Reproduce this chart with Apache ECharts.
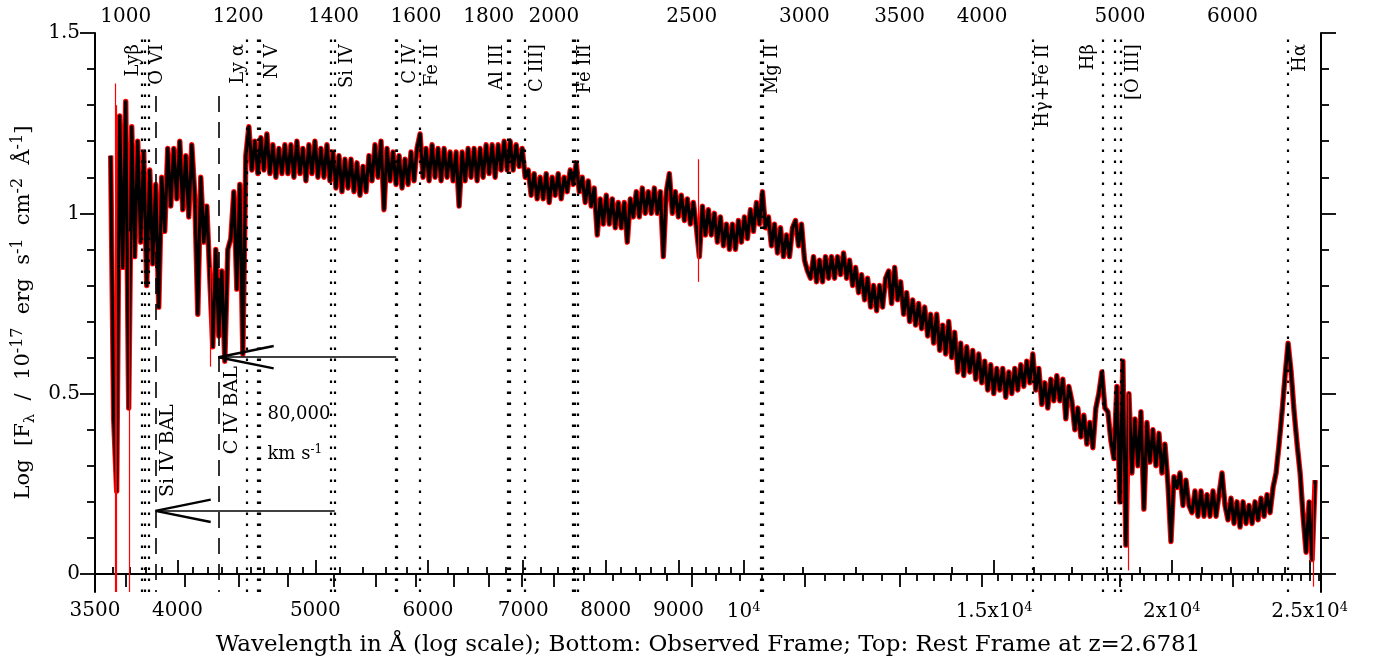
<!DOCTYPE html>
<html><head><meta charset="utf-8">
<script src="https://cdn.jsdelivr.net/npm/echarts@6/dist/echarts.min.js"></script>
<style>html,body{margin:0;padding:0;background:#fff}#c{width:1378px;height:661px}</style>
</head><body><div id="c"></div>
<script>
const REDSHIFT = 2.6781;
const X_MIN = 3500, X_MAX = 25465;
const Y_MIN = -0.05, Y_MAX = 1.5;
const FONT = 'DejaVu Serif';

// spectrum sampled evenly in log(wavelength) between these observed wavelengths
const specStart = 3590, specEnd = 25224;
const fluxBlack = [
1.16,0.43,0.23,1.27,0.85,1.31,0.46,1.24,0.88,1.20,0.92,1.17,0.80,1.12,0.86,1.08,0.74,1.10,0.95,1.18,
1.02,1.18,1.04,1.20,1.01,1.16,0.99,1.19,1.05,0.72,1.10,0.92,1.02,0.82,0.63,0.90,0.66,0.84,0.59,0.90,
0.93,1.06,0.79,1.08,0.61,1.16,1.24,1.12,1.20,1.11,1.21,1.12,1.22,1.11,1.19,1.10,1.18,1.11,1.19,1.11,
1.19,1.10,1.20,1.11,1.18,1.09,1.19,1.11,1.20,1.10,1.18,1.10,1.19,1.09,1.17,1.07,1.16,1.06,1.15,1.07,
1.15,1.06,1.14,1.05,1.13,1.06,1.16,1.09,1.19,1.10,1.20,1.01,1.18,1.09,1.17,1.08,1.16,1.07,1.15,1.08,
1.17,1.09,1.18,1.22,1.10,1.18,1.09,1.19,1.10,1.18,1.09,1.18,1.10,1.17,1.09,1.17,1.02,1.17,1.09,1.18,
1.10,1.18,1.09,1.18,1.10,1.19,1.11,1.19,1.10,1.19,1.12,1.20,1.12,1.20,1.12,1.19,1.13,1.18,1.10,1.12,
1.05,1.11,1.04,1.10,1.04,1.11,1.03,1.10,1.05,1.11,1.04,1.10,1.06,1.12,1.08,1.14,1.06,1.10,1.03,1.09,
1.02,1.07,0.94,1.04,0.97,1.05,0.97,1.04,0.96,1.03,0.96,1.03,0.92,1.04,0.99,1.06,0.99,1.07,1.00,1.06,
1.00,1.07,1.00,1.06,0.88,1.06,1.11,1.00,1.06,0.99,1.05,0.98,1.04,0.97,1.03,0.96,0.88,1.02,0.94,1.01,
0.94,1.00,0.92,0.99,0.91,0.97,0.90,0.97,0.90,0.98,0.92,0.99,0.93,1.01,0.95,1.03,0.97,1.06,0.96,0.99,
0.91,0.97,0.89,0.96,0.88,0.94,0.88,0.96,0.98,0.91,0.97,0.87,0.84,0.82,0.88,0.81,0.87,0.81,0.88,0.82,
0.88,0.82,0.88,0.83,0.89,0.82,0.87,0.80,0.85,0.78,0.83,0.76,0.82,0.74,0.80,0.73,0.80,0.74,0.82,0.84,
0.75,0.85,0.76,0.81,0.72,0.78,0.70,0.76,0.69,0.75,0.68,0.74,0.66,0.72,0.64,0.72,0.62,0.69,0.61,0.70,
0.60,0.67,0.56,0.64,0.55,0.63,0.56,0.62,0.54,0.61,0.53,0.59,0.51,0.58,0.50,0.57,0.51,0.57,0.49,0.56,
0.50,0.57,0.51,0.58,0.52,0.59,0.53,0.61,0.51,0.57,0.47,0.53,0.46,0.54,0.48,0.55,0.48,0.54,0.43,0.52,
0.48,0.40,0.46,0.38,0.44,0.36,0.42,0.35,0.46,0.50,0.56,0.46,0.45,0.37,0.32,0.52,0.20,0.59,0.08,0.50,
0.28,0.43,0.30,0.45,0.18,0.42,0.31,0.40,0.30,0.39,0.28,0.36,0.25,0.09,0.27,0.24,0.28,0.19,0.26,0.19,
0.17,0.23,0.16,0.23,0.16,0.22,0.16,0.23,0.16,0.22,0.28,0.19,0.15,0.21,0.14,0.20,0.13,0.20,0.14,0.19,
0.14,0.20,0.15,0.21,0.16,0.22,0.17,0.24,0.28,0.36,0.45,0.55,0.64,0.56,0.45,0.36,0.28,0.16,0.06,0.20,
0.04,0.26
];
// red (unsmoothed) spikes that stick out beyond the black spectrum
const redSpikeWave = [3614, 3622, 3701, 4221, 9293, 18643, 25148];
const redSpikeLow  = [-0.05, -0.05, -0.05, 0.575, 0.81, 0.01, -0.035];
const redSpikeHigh = [1.36, 1.30, 0.95, 0.85, 1.15, 0.50, 0.25];

// emission lines (rest frame, Å)
const lineRest = [1025.72,1031.93,1037.62,1215.67,1238.82,1242.80,1393.76,1402.77,1548.19,1550.77,1608.45,
  1854.72,1862.79,1908.73,2062.2,2069.8,2079.7,2796.35,2803.53,4341.68,4862.68,4960.30,5008.24,6564.61];
const lineLabels = ['Lyβ','O VI','Ly α','N V','Si IV','C IV','Fe II','Al III','C III]','Fe III','Mg II','Hγ+Fe II','Hβ','[O III]','Hα'];
const lineLabelWave = [3725,3873,4411,4665,5267,5828,6042,6712,7161,7739,10480,16252,17475,18794,24630];
const lineLabelTop = 1.469;

// BAL markers (observed Å)
const balWave = [3860, 4275];
const balTop = 1.325;
const balLabels = ['Si IV BAL', 'C IV BAL'];
const balLabelWave = [3942, 4372];
const balLabelLevel = [0.342, 0.454];
const arrowTipWave = [3860, 4275];
const arrowTailWave = [5159.5, 5699];
const arrowLevel = [0.175, 0.601];
const arrowHeadWave = [4221, 4674];
const arrowHeadHalf = [0.031, 0.031];
const velText = ['80,000', 'km s{sup|-1}'];
const velTextWave = [4627, 4627];
const velTextLevel = [0.442, 0.333];

// ticks
const bottomMajor = [3500,4000,5000,6000,7000,8000,9000,10000,15000,20000,25000];
const bottomLabels = ['3500','4000','5000','6000','7000','8000','9000','10{sup|4}','1.5x10{sup|4}','2x10{sup|4}','2.5x10{sup|4}'];
const bottomMinor = [3600,3700,3800,3900,4100,4200,4300,4400,4500,4600,4700,4800,4900,5200,5400,5600,5800,
  6200,6400,6600,6800,7200,7400,7600,7800,8200,8400,8600,8800,9200,9400,9600,9800,
  11000,12000,13000,14000,16000,17000,18000,19000,21000,22000,23000,24000];
const topMajor = [1000,1100,1200,1300,1400,1500,1600,1700,1800,1900,2000,2500,3000,3500,4000,5000,6000];
const topLabelVals = [1000,1200,1400,1600,1800,2000,2500,3000,3500,4000,5000,6000];
const topMinor = [2100,2200,2300,2400,2600,2700,2800,2900,3100,3200,3300,3400,3600,3700,3800,3900,
  4100,4200,4300,4400,4500,4600,4700,4800,4900,5100,5200,5300,5400,5500,5600,5700,5800,5900,
  6100,6200,6300,6400,6500,6600,6700,6800,6900];
const yMajor = [0, 0.5, 1, 1.5];
const yLabels = ['0', '0.5', '1', '1.5'];
const yMinor = [0.1,0.2,0.3,0.4,0.6,0.7,0.8,0.9,1.1,1.2,1.3,1.4];

const L = Math.log10;
const opz = 1 + REDSHIFT;
const N = fluxBlack.length;
const l0 = L(specStart), l1 = L(specEnd);
const specData = fluxBlack.map((v, i) => [l0 + i * (l1 - l0) / (N - 1), v]);

function findLabel(val, vals, labels, f) {
  for (let i = 0; i < vals.length; i++) if (Math.abs(L(f(vals[i])) - val) < 1e-7) return labels[i];
  return '';
}
const blackLine = {color: '#000', width: 2};
const tickStyle = {color: '#000', width: 1.8};
const supRich = {sup: {fontFamily: FONT, fontSize: 13, color: '#000', verticalAlign: 'top', lineHeight: 22}};
const labelBase = {fontFamily: FONT, fontSize: 20, color: '#000', rich: supRich};

function xAx(pos, ticks, len, showLine, labelVals, fmt, margin) {
  return {
    type: 'value', position: pos, min: L(X_MIN), max: L(X_MAX), gridIndex: 0,
    splitLine: {show: false},
    axisLine: {show: showLine, lineStyle: blackLine},
    axisTick: {show: true, inside: true, length: len, customValues: ticks, lineStyle: tickStyle},
    axisLabel: labelVals ? Object.assign({show: true, customValues: labelVals, formatter: fmt, margin: margin}, labelBase) : {show: false}
  };
}
function yAx(pos, ticks, len, showLine, labels) {
  return {
    type: 'value', position: pos, min: Y_MIN, max: Y_MAX, gridIndex: 0,
    splitLine: {show: false},
    axisLine: {show: showLine, lineStyle: blackLine},
    axisTick: {show: true, inside: false, length: len, customValues: ticks, lineStyle: tickStyle},
    axisLabel: labels ? Object.assign({show: true, customValues: yMajor, margin: 15,
      formatter: v => { const i = yMajor.findIndex(m => Math.abs(m - v) < 1e-9); return i >= 0 ? yLabels[i] : ''; }}, labelBase) : {show: false}
  };
}

const xAxes = [
  Object.assign(xAx('bottom', bottomMajor.map(L), 14, true, bottomMajor.map(L),
      v => findLabel(v, bottomMajor, bottomLabels, w => w), 9), {
    name: 'Wavelength in Å (log scale); Bottom: Observed Frame; Top: Rest Frame at z=2.6781',
    nameLocation: 'middle', nameGap: 42,
    nameTextStyle: {fontFamily: FONT, fontSize: 23, color: '#000'}
  }),
  xAx('bottom', bottomMinor.map(L), 7, false, null),
  xAx('top', topMajor.map(w => L(w * opz)), 13, true, topLabelVals.map(w => L(w * opz)),
      v => findLabel(v, topLabelVals, topLabelVals.map(String), w => w * opz), 6),
  xAx('top', topMinor.map(w => L(w * opz)), 7, false, null)
];
const yAxes = [
  Object.assign(yAx('left', yMajor, 15, true, true), {
    name: 'Log  [F{sub|λ}  /  10{sup|-17}  erg  s{sup|-1}  cm{sup|-2}  Å{sup|-1}]',
    nameLocation: 'middle', nameGap: 57, nameRotate: 90,
    nameTextStyle: {fontFamily: FONT, fontSize: 21, color: '#000',
      rich: {
        sub: {fontFamily: FONT, fontSize: 15, color: '#000', verticalAlign: 'bottom', lineHeight: 27},
        sup: {fontFamily: FONT, fontSize: 16, color: '#000', verticalAlign: 'top', lineHeight: 27}
      }}
  }),
  yAx('left', yMinor, 8, false, false),
  yAx('right', yMajor, 15, true, false),
  yAx('right', yMinor, 8, false, false)
];

const dotted = lineRest.map(r => ({xAxis: L(r * opz), lineStyle: {type: [2.6, 8.4], width: 2.2, color: '#000'}}));
const dashed = balWave.map(w => [
  {coord: [L(w), balTop], lineStyle: {type: [16, 10], width: 1.6, color: '#000'}},
  {coord: [L(w), Y_MIN]}
]);
const redSp = redSpikeWave.map((w, i) => [
  {coord: [L(w), redSpikeHigh[i]], lineStyle: {type: 'solid', width: 1.2, color: '#ff0000'}},
  {coord: [L(w), redSpikeLow[i]]}
]);
const arrows = [];
arrowTipWave.forEach((w, i) => {
  arrows.push([{coord: [L(w), arrowLevel[i]], lineStyle: {type: 'solid', width: 1.5, color: '#000'}}, {coord: [L(arrowTailWave[i]), arrowLevel[i]]}]);
  arrows.push([{coord: [L(w), arrowLevel[i]], lineStyle: {type: 'solid', width: 2.4, color: '#000'}}, {coord: [L(arrowHeadWave[i]), arrowLevel[i] + arrowHeadHalf[i]]}]);
  arrows.push([{coord: [L(w), arrowLevel[i]], lineStyle: {type: 'solid', width: 2.4, color: '#000'}}, {coord: [L(arrowHeadWave[i]), arrowLevel[i] - arrowHeadHalf[i]]}]);
});
const mlBase = {silent: true, symbol: ['none', 'none'], label: {show: false}, emphasis: {disabled: true}, animation: false, precision: 6};

const chart = echarts.init(document.getElementById('c'), null, {renderer: 'canvas'});
chart.setOption({
  animation: false,
  backgroundColor: '#fff',
  grid: {left: 95, right: 57, top: 33, bottom: 69, containLabel: false, outerBoundsMode: 'none'},
  xAxis: xAxes,
  yAxis: yAxes,
  series: [
    {type: 'line', name: 'raw', data: specData, xAxisIndex: 0, yAxisIndex: 0, symbol: 'none', z: 2,
     lineStyle: {color: '#ff0000', width: 5.4, join: 'round'}, silent: true,
     markLine: Object.assign({data: dotted.concat(redSp)}, mlBase)},
    {type: 'line', name: 'smooth', data: specData, xAxisIndex: 0, yAxisIndex: 0, symbol: 'none', z: 3,
     lineStyle: {color: '#000', width: 3.2, join: 'round'}, silent: true,
     markLine: Object.assign({data: dashed.concat(arrows)}, mlBase)}
  ]
});

const px = (w, v) => chart.convertToPixel({seriesIndex: 1}, [L(w), v]);
const g = [];
lineLabels.forEach((t, i) => {
  const p = px(lineLabelWave[i], lineLabelTop);
  g.push({type: 'text', x: p[0], y: p[1], rotation: Math.PI / 2, silent: true,
    style: {text: t, fontFamily: FONT, fontSize: 18, fill: '#000', align: 'right', verticalAlign: 'middle'}});
});
balLabels.forEach((t, i) => {
  const p = px(balLabelWave[i], balLabelLevel[i]);
  g.push({type: 'text', x: p[0], y: p[1], rotation: Math.PI / 2, silent: true,
    style: {text: t, fontFamily: FONT, fontSize: 19, fill: '#000', align: 'center', verticalAlign: 'middle'}});
});
velText.forEach((t, i) => {
  const p = px(velTextWave[i], velTextLevel[i]);
  g.push({type: 'text', x: p[0], y: p[1], silent: true,
    style: {text: t, fontFamily: FONT, fontSize: 18, fill: '#000', align: 'left', verticalAlign: 'middle',
      rich: {sup: {fontFamily: FONT, fontSize: 12, fill: '#000', verticalAlign: 'top', lineHeight: 20}}}});
});
chart.setOption({graphic: g});
</script></body></html>
